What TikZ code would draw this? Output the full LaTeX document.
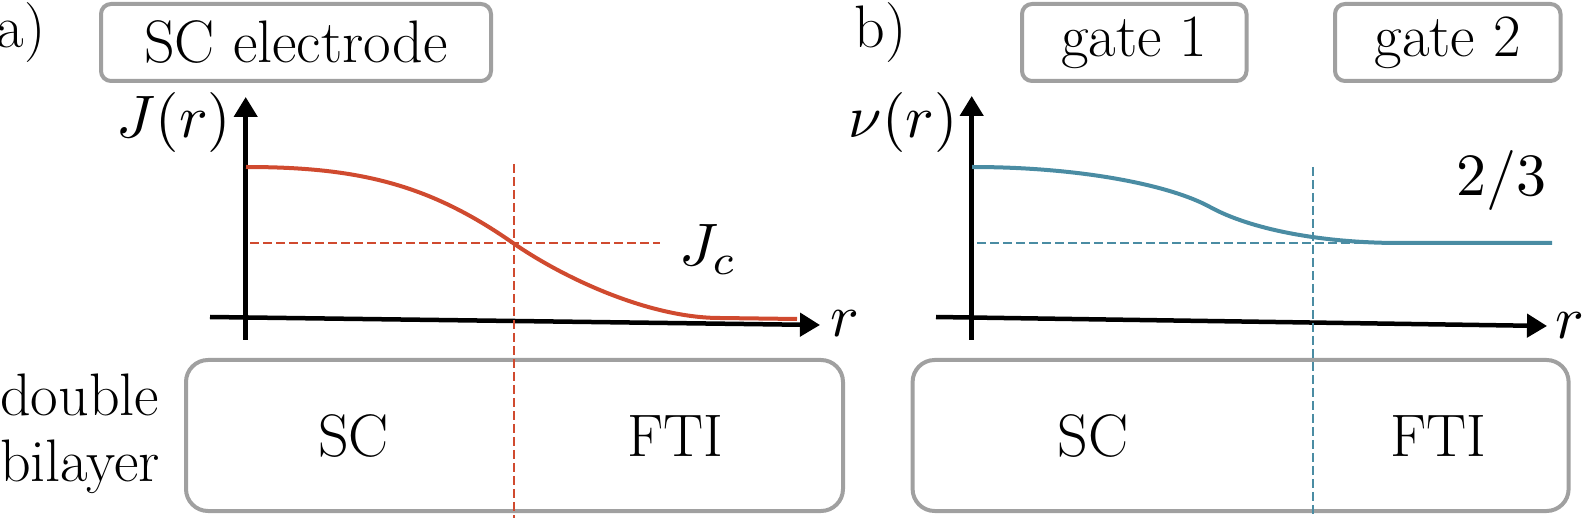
\documentclass[tikz,border=0pt]{standalone}
\usetikzlibrary{arrows.meta}
\definecolor{jred}{HTML}{D04A2F}
\definecolor{nuteal}{HTML}{4A8CA3}
\definecolor{boxgray}{HTML}{A0A0A0}
\newcommand{\mymath}[1]{\scalebox{6}{\fontsize{10}{12}\selectfont$#1$}}
\tikzset{
  lbl/.style={inner sep=0pt},
  topbox/.style={draw=boxgray, line width=4pt, rounded corners=10pt, minimum height=77pt, inner sep=0pt},
  layerbox/.style={draw=boxgray, line width=4pt, rounded corners=22pt, minimum height=151pt, minimum width=657pt, inner sep=0pt},
  axisline/.style={line width=4.5pt, -{Triangle[length=20pt,width=23pt]}},
  guide/.style={line width=1.8pt, dash pattern=on 9pt off 4pt},
  profile/.style={line width=4pt},
}
\begin{document}
\begin{tikzpicture}[x=1pt,y=-1pt,font=\fontsize{60}{66}\selectfont]
\useasboundingbox (0,0) rectangle (1583,518);
% top boxes
\node[topbox, minimum width=390pt] (sce) at (296,42.5) {SC electrode};
\node[topbox, minimum width=224.5pt] (g1) at (1134.25,42.5) {gate 1};
\node[topbox, minimum width=225.5pt] (g2) at (1447.75,42.5) {gate 2};
% bottom boxes
\node[layerbox] (bla) at (514.5,435.5) {};
\node[layerbox, minimum width=656pt] (blb) at (1240.6,435.5) {};
% texts
\node[lbl] (sca) at (353.5,436) {SC};
\node[lbl] (ftia) at (675,436) {FTI};
\node[lbl] (scb) at (1093,436) {SC};
\node[lbl] (ftib) at (1438,436) {FTI};
\node[lbl, anchor=base west] (dbl) at (0,416) {double};
\node[lbl, anchor=base west] (bil) at (0,481.7) {bilayer};
\node[lbl] (la) at (21,33) {a)};
\node[lbl] (lb) at (880.5,33) {b)};
\node[lbl] (jr) at (174,123) {\mymath{J(r)}};
\node[lbl] (nur) at (903,123) {\mymath{\nu(r)}};
\node[lbl] (jc) at (708,250) {\mymath{J_c}};
\node[lbl] (twothirds) at (1501,181) {\mymath{2/3}};
\node[lbl] (ra) at (845,324) {\mymath{r}};
\node[lbl] (rb) at (1570,326) {\mymath{r}};
% axes
\coordinate (ya0) at (245.7,340); \coordinate (ya1) at (245.7,97);
\coordinate (xa0) at (210,317);   \coordinate (xa1) at (820,325);
\coordinate (yb0) at (971.7,340); \coordinate (yb1) at (971.7,96);
\coordinate (xb0) at (936,317);   \coordinate (xb1) at (1547,326);
\draw[axisline] (ya0) -- (ya1);
\draw[axisline] (xa0) -- (xa1);
\draw[axisline] (yb0) -- (yb1);
\draw[axisline] (xb0) -- (xb1);
% guides
\coordinate (ha0) at (250,243);  \coordinate (ha1) at (660,243);
\coordinate (va0) at (514,164);  \coordinate (va1) at (514,518);
\coordinate (hb0) at (977,243);  \coordinate (hb1) at (1400,243);
\coordinate (vb0) at (1313,167); \coordinate (vb1) at (1313,518);
\draw[guide, jred] (ha0) -- (ha1);
\draw[guide, jred] (va0) -- (va1);
\draw[guide, nuteal] (hb0) -- (hb1);
\draw[guide, nuteal] (vb0) -- (vb1);
% profiles
\draw[profile, jred] (246,167) .. controls (360,167) and (430,185) .. (513,243)
  .. controls (565,279) and (650,318) .. (720,318) -- (797,319);
\draw[profile, nuteal] (972,167) .. controls (1080,167) and (1170,185) .. (1210,207)
  .. controls (1250,229) and (1320,243) .. (1400,243) -- (1552,243);
\end{tikzpicture}
\end{document}
